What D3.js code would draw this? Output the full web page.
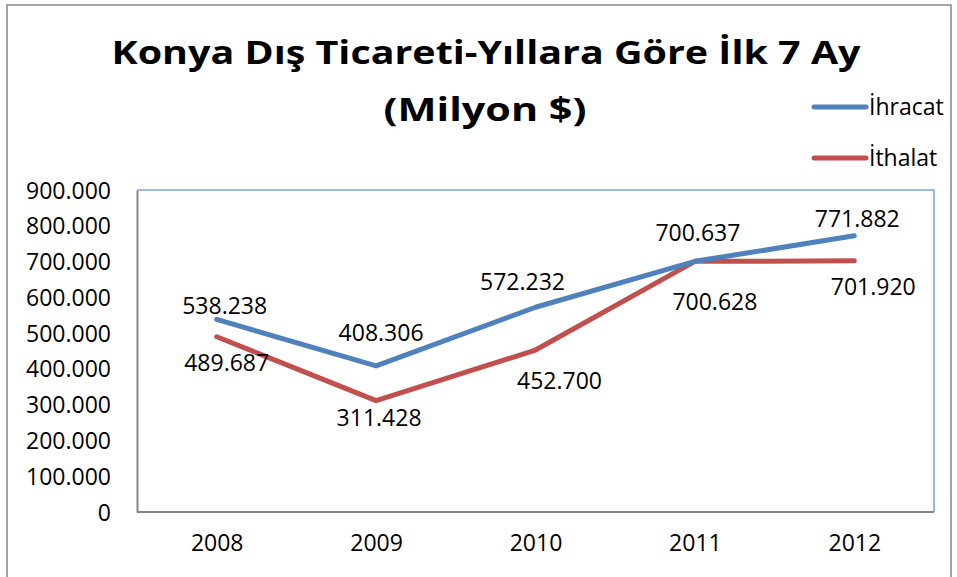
<!DOCTYPE html>
<html><head><meta charset="utf-8">
<script src="https://cdn.jsdelivr.net/npm/d3@7"></script>
<style>
html,body{margin:0;padding:0;background:#fff;}
text{font-family:"Open Sans",sans-serif;fill:#000;}
</style></head>
<body>
<svg id="c" width="957" height="577"></svg>
<script>
// ---- data ----
const years = ["2008","2009","2010","2011","2012"];
const ihracat = [538238, 408306, 572232, 700637, 771882];
const ithalat = [489687, 311428, 452700, 700628, 701920];
const yTicks = [0,100000,200000,300000,400000,500000,600000,700000,800000,900000];
const seriesNames = ["İhracat","İthalat"];
const titleLines = ["Konya Dış Ticareti-Yıllara Göre İlk 7 Ay","(Milyon $)"];

// ---- layout (label nudges as in the picture) ----
const labelNudgeIhr = [[8,-13],[5,-33],[-13,-25],[3,-28],[3,-17]];
const labelNudgeIth = [[10,26],[3,17],[24,31],[20,41],[19,26]];
const colors = ["#4f81bd","#c0504d"];

const svg = d3.select("#c");
const fmt = v => v===0 ? "0" : d3.format(",")(v).replace(/,/g,".");

// outer border
svg.append("rect").attr("x",7).attr("y",5).attr("width",944).attr("height",590)
  .attr("fill","#fff").attr("stroke","#868686").attr("stroke-width",1.5);

const L=137, R=934, T=190, B=512;
const x = d3.scalePoint().domain(years).range([L,R]).padding(0.5);
const y = d3.scaleLinear().domain([0,900000]).range([B,T]);

// plot area border top/right
svg.append("path").attr("d",`M${L},${T}H${R}V${B}`).attr("fill","none")
  .attr("stroke","#7ea3d3").attr("stroke-width",1.5);

// axes
const yAxis = d3.axisLeft(y).tickValues(yTicks).tickFormat(fmt).tickSize(0).tickPadding(26);
const gy = svg.append("g").attr("transform",`translate(${L},0)`).call(yAxis);
gy.select(".domain").attr("stroke","#868686").attr("stroke-width",2);
gy.selectAll("text").attr("font-size",23).attr("font-family","Open Sans").attr("fill","#000").attr("dy","0.35em");

const xAxis = d3.axisBottom(x).tickSize(0).tickPadding(23);
const gx = svg.append("g").attr("transform",`translate(0,${B})`).call(xAxis);
gx.select(".domain").attr("stroke","#868686").attr("stroke-width",2).attr("d",`M${L},0H${R}`);
gx.selectAll("text").attr("font-size",23).attr("font-family","Open Sans").attr("fill","#000").attr("dy","0.71em");

// lines
const line = d3.line().x((d,i)=>x(years[i])).y(d=>y(d));
[ithalat, ihracat].forEach((s,k)=>{
  const c = k===0 ? colors[1] : colors[0];
  svg.append("path").datum(s).attr("d",line).attr("fill","none")
    .attr("stroke",c).attr("stroke-width",5).attr("stroke-linecap","round").attr("stroke-linejoin","round");
});

// data labels
function labels(s, nudge){
  svg.append("g").selectAll("text").data(s).join("text")
    .attr("x",(d,i)=>x(years[i])+nudge[i][0])
    .attr("y",(d,i)=>y(d)+nudge[i][1])
    .attr("dy","0.35em").attr("text-anchor","middle").attr("font-size",23)
    .text(d=>fmt(d));
}
labels(ihracat, labelNudgeIhr);
labels(ithalat, labelNudgeIth);

// title
svg.append("text").attr("x",486).attr("y",64).attr("text-anchor","middle")
  .attr("font-size",33).attr("font-weight","bold")
  .attr("textLength",749).attr("lengthAdjust","spacingAndGlyphs").text(titleLines[0]);
svg.append("text").attr("x",485).attr("y",121).attr("text-anchor","middle")
  .attr("font-size",33).attr("font-weight","bold")
  .attr("textLength",203).attr("lengthAdjust","spacingAndGlyphs").text(titleLines[1]);

// legend
const lg = svg.append("g");
seriesNames.forEach((n,i)=>{
  const ly = 107 + i*51;
  lg.append("line").attr("x1",814).attr("x2",866).attr("y1",ly).attr("y2",ly)
    .attr("stroke",colors[i]).attr("stroke-width",5).attr("stroke-linecap","round");
  lg.append("text").attr("x",869).attr("y",ly).attr("dy","0.35em").attr("font-size",23).text(n);
});
</script>
</body></html>
